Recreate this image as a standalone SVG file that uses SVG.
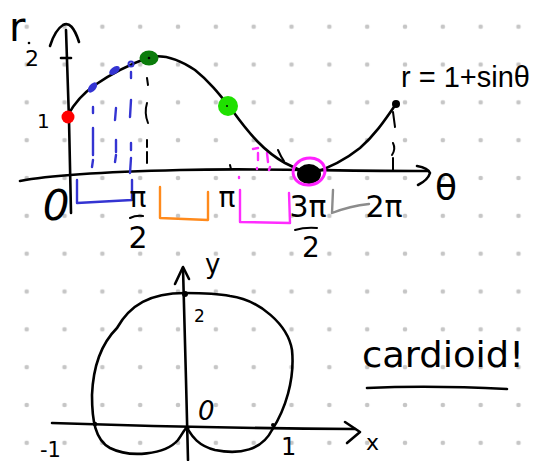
<svg xmlns="http://www.w3.org/2000/svg" width="541" height="461" viewBox="0 0 541 461">
<style>
.ink{fill:none;stroke:#000;stroke-width:2.6;stroke-linecap:round;stroke-linejoin:round}
.thin{fill:none;stroke:#000;stroke-width:2;stroke-linecap:round}
.blue{fill:none;stroke:#3434d2;stroke-width:2.4;stroke-linecap:round;stroke-linejoin:round}
.org{fill:none;stroke:#ff8a1c;stroke-width:2.4;stroke-linecap:round;stroke-linejoin:round}
.mag{fill:none;stroke:#ff2cff;stroke-width:2.4;stroke-linecap:round;stroke-linejoin:round}
.gry{fill:none;stroke:#8c8c8c;stroke-width:2.4;stroke-linecap:round;stroke-linejoin:round}
text{font-family:"DejaVu Sans","Liberation Sans",sans-serif;fill:#000}
</style>
<defs>
<pattern id="dots" patternUnits="userSpaceOnUse" x="7.785" y="7.785" width="37.83" height="37.83">
<circle cx="18.915" cy="18.915" r="2.3" fill="#c6c6c6"/>
</pattern>
</defs>
<rect width="541" height="461" fill="#fff"/>
<rect width="541" height="461" fill="url(#dots)"/>

<g id="top-axes">
<path class="ink" d="M71 213 L69 120 L66 30"/>
<path class="ink" d="M50 46 Q55 30 63 25 Q72 20 79 42"/>
<path class="ink" d="M61 58 L71 58"/>
<path class="ink" d="M20 181 C50 175 100 172 180 170 S330 171 428 171"/>
<path class="ink" d="M417 166 Q428 168 430 173 Q428 180 418 185"/>
<path class="thin" d="M230 165 L231 169"/>
</g>

<g id="dashes">
<path class="blue" d="M93 107 L93 113 M93 128 L93 155 M93 160 L92 167 M116 108 L115 120 M116 140 L116 152 M116 155 L115 162 M131 72 L131 78 M131 100 L130 117 M131 143 L131 150 M131 158 L130 173"/>
<path class="thin" d="M147 78 L148 85 M147 103 Q144 113 148 123 M147 140 L147 147 M147 152 L147 163"/>
<path class="mag" d="M253 149 L258 148 M258 153 L258 160 M267 153 L268 162 M257 168 L257 169 M270 167 L269 170 M239 177 L239 178"/>
<path class="thin" d="M393 112 L395 127 M393 143 Q396 149 392 155 M393 158 L393 170"/>
<path class="thin" d="M278 150 Q281 157 284 161"/>
</g>

<g id="curve">
<path class="ink" d="M68 115 C75 102 85 92 95 85 C108 76 125 66 150 57 C165 54 180 60 195 70 C210 82 220 95 232 110 C250 135 265 152 285 163 C295 168 303 172 310 174 C330 168 345 160 360 148 C375 135 385 120 396 104"/>
</g>

<g id="points">
<circle cx="68" cy="117" r="6.5" fill="#ff0000"/>
<ellipse cx="92.5" cy="87.5" rx="3.5" ry="6" transform="rotate(40 92.5 87.5)" fill="#3434d2"/>
<ellipse cx="114.5" cy="70.5" rx="3.5" ry="6" transform="rotate(55 114.5 70.5)" fill="#3434d2"/>
<circle cx="131" cy="64" r="2.5" fill="none" stroke="#3434d2" stroke-width="2"/>
<ellipse cx="149" cy="58" rx="9.5" ry="7.5" fill="#0b7c0b"/>
<circle cx="149" cy="58" r="1.3" fill="#000"/>
<circle cx="228" cy="106" r="10" fill="#1fe000"/>
<circle cx="227" cy="106" r="1" fill="#000"/>
<ellipse cx="309" cy="174" rx="12" ry="10" fill="#000"/>
<ellipse cx="309" cy="171.5" rx="16" ry="13.5" transform="rotate(-10 309 171.5)" fill="none" stroke="#ff22ff" stroke-width="3"/>
<circle cx="396" cy="104" r="4" fill="#000"/>
</g>

<g id="brackets">
<path class="blue" d="M77 180 L77 203 L132 200 L132 180"/>
<path class="org" d="M160 187 L160 218 L208 220 L208 192"/>
<path class="mag" d="M240 190 L240 222 L290 223 L289 193"/>
<path class="gry" d="M333 190 L332 213 Q350 206 369 204"/>
</g>

<g id="top-labels">
<text x="9" y="41" font-size="40">r</text>
<circle cx="29" cy="43" r="1.3" fill="#000"/>
<text x="25" y="66" font-size="22">2</text>
<text x="37" y="128" font-size="20">1</text>
<text x="56" y="220" font-size="42" font-style="italic" text-anchor="middle">0</text>
<text x="138" y="207" font-size="28" text-anchor="middle">π</text>
<path class="thin" d="M130 218 Q136 215 143 216"/>
<text x="138" y="248" font-size="30" text-anchor="middle">2</text>
<text x="227" y="207" font-size="28" text-anchor="middle">π</text>
<text x="308" y="217" font-size="30" text-anchor="middle">3π</text>
<path class="thin" d="M295 230 Q305 227 317 228"/>
<text x="311" y="257" font-size="28" text-anchor="middle">2</text>
<text x="384" y="217" font-size="30" text-anchor="middle">2π</text>
<text x="446" y="200" font-size="36" text-anchor="middle">θ</text>
<text x="401" y="87" font-size="29" style="font-family:'Liberation Sans',sans-serif">r = 1+sinθ</text>
</g>

<g id="bottom-axes">
<path class="ink" d="M188 460 L186 380 L183 268"/>
<path class="ink" d="M175 284 L183 267 L189 279"/>
<path class="ink" d="M52 423 Q200 428 355 429"/>
<path class="ink" d="M345 422 L360 432 L347 443"/>
</g>

<g id="cardioid">
<path class="ink" d="M185 293 C150 293 130 305 117 328 C100 345 93 370 92 395 C92 420 95 440 110 448 C130 458 165 455 178 440 C183 433 185 428 187 428 C190 432 195 445 215 450 C240 455 262 450 272 430 C285 410 295 380 292 350 C288 325 260 300 230 296 C215 293 200 293 185 293 Z"/>
<circle cx="185" cy="294" r="3" fill="#000"/>
<circle cx="95" cy="424" r="2.2" fill="#000"/>
<circle cx="187" cy="428" r="2.5" fill="#000"/>
<circle cx="273" cy="425" r="2" fill="#000"/>
</g>

<g id="bottom-labels">
<text x="205" y="273" font-size="26">y</text>
<text x="194" y="322" font-size="17">2</text>
<text x="198" y="420" font-size="26" font-style="italic">0</text>
<text x="40" y="457" font-size="21">-1</text>
<text x="281" y="455" font-size="24">1</text>
<text x="366" y="450" font-size="22">x</text>
<text x="362" y="367" font-size="36" textLength="162" lengthAdjust="spacingAndGlyphs">cardioid!</text>
<path class="ink" d="M367 388 Q430 385 507 389" stroke-width="3"/>
</g>
</svg>
